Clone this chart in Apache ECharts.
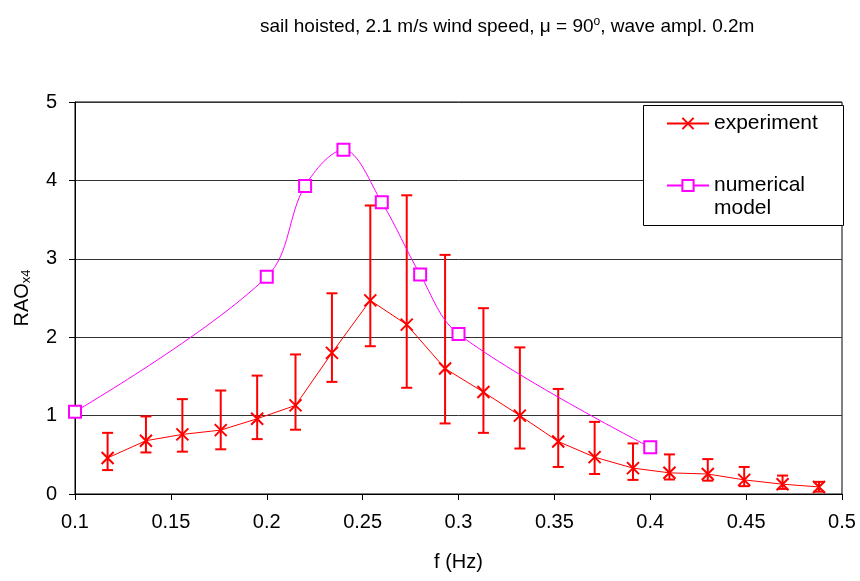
<!DOCTYPE html>
<html>
<head>
<meta charset="utf-8">
<script src="https://cdn.jsdelivr.net/npm/echarts@6/dist/echarts.min.js"></script>
<style>
  html, body { margin: 0; padding: 0; background: #fff; }
  #chart { width: 860px; height: 581px; }
</style>
</head>
<body>
<div id="chart"></div>
<script>
// Measured roll response (RAO x4) with scatter range, and the numerical model
const expFreq = [0.117, 0.137, 0.156, 0.176, 0.195, 0.215, 0.234, 0.254, 0.273, 0.293,
                 0.313, 0.332, 0.352, 0.371, 0.391, 0.410, 0.430, 0.449, 0.469, 0.488];
const expRAO  = [0.46, 0.68, 0.76, 0.815, 0.96, 1.13, 1.80, 2.47, 2.16, 1.60,
                 1.30, 1.00, 0.67, 0.47, 0.33, 0.27, 0.255, 0.18, 0.125, 0.09];
const expHigh = [0.78, 0.99, 1.21, 1.32, 1.51, 1.78, 2.56, 3.68, 3.81, 3.05,
                 2.37, 1.87, 1.34, 0.92, 0.645, 0.505, 0.445, 0.345, 0.235, 0.155];
const expLow  = [0.305, 0.53, 0.54, 0.57, 0.70, 0.82, 1.43, 1.885, 1.355, 0.90,
                 0.78, 0.58, 0.345, 0.255, 0.18, 0.185, 0.17, 0.10, 0.065, 0.03];

const numFreq = [0.10, 0.20, 0.22, 0.24, 0.26, 0.28, 0.30, 0.40];
const numRAO  = [1.05, 2.77, 3.93, 4.39, 3.72, 2.80, 2.04, 0.595];

const seriesNames = ['experiment', 'numerical model'];
const titleText = 'sail hoisted, 2.1 m/s wind speed, \u03bc = 90{sup|o}, wave ampl. 0.2m';

const RED = '#ff0000';
const MAGENTA = '#ff00ff';
const FONT = 'Liberation Sans, Arial, sans-serif';
const CROSS = 'path://M0 0L10 10M10 0L0 10';

const chart = echarts.init(document.getElementById('chart'), null, { renderer: 'canvas' });

const expData = expFreq.map((f, i) => [f, expRAO[i]]);
const errData = expFreq.map((f, i) => [f, expLow[i], expHigh[i]]);
const numData = numFreq.map((f, i) => [f, numRAO[i]]);

chart.setOption({
  backgroundColor: '#fff',
  animation: false,
  title: {
    text: titleText,
    left: 255,
    top: 11,
    textStyle: {
      fontFamily: FONT, fontSize: 19, fontWeight: 'normal', color: '#000',
      rich: { sup: { fontFamily: FONT, fontSize: 12, verticalAlign: 'top', padding: [0, 0, 10, 0], color: '#000' } }
    }
  },
  grid: {
    left: 75, right: 18, top: 102, bottom: 87,
    show: true, borderColor: '#000', borderWidth: 1, backgroundColor: 'transparent'
  },
  graphic: [{
    type: 'rect', z: 5,
    shape: { x: 643.5, y: 105.5, width: 200, height: 120 },
    style: { fill: '#fff', stroke: '#000', lineWidth: 1 }
  }],
  legend: {
    z: 10,
    orient: 'vertical',
    left: 666, top: 112,
    padding: 0,
    itemGap: 16,
    itemWidth: 42, itemHeight: 14,
    data: seriesNames,
    // a blank leading line keeps the icon level with "numerical"
    formatter: name => name === 'numerical model' ? '\nnumerical\nmodel' : name,
    textStyle: { fontFamily: FONT, fontSize: 21, color: '#000', lineHeight: 23 }
  },
  xAxis: {
    type: 'value', min: 0.1, max: 0.5, interval: 0.05,
    name: 'f (Hz)', nameLocation: 'middle', nameGap: 58,
    nameTextStyle: { fontFamily: FONT, fontSize: 20, color: '#000' },
    axisLine: { show: true, onZero: false, lineStyle: { color: '#000', width: 1 } },
    axisTick: { show: true, inside: false, length: 6, lineStyle: { color: '#000' } },
    axisLabel: {
      margin: 18, fontFamily: FONT, fontSize: 20, color: '#000',
      formatter: v => String(parseFloat(v.toFixed(2)))
    },
    splitLine: { show: false }
  },
  yAxis: {
    type: 'value', min: 0, max: 5, interval: 1,
    name: 'RAO{sub|x4}', nameLocation: 'middle', nameGap: 42, nameRotate: 90,
    nameTextStyle: {
      fontFamily: FONT, fontSize: 20, color: '#000',
      rich: { sub: { fontFamily: FONT, fontSize: 13, verticalAlign: 'bottom', padding: [8, 0, 0, 0], color: '#000' } }
    },
    axisLine: { show: true, lineStyle: { color: '#000', width: 1 } },
    axisTick: { show: true, inside: false, length: 6, lineStyle: { color: '#000' } },
    axisLabel: { margin: 18, fontFamily: FONT, fontSize: 20, color: '#000' },
    splitLine: { show: true, lineStyle: { color: '#333', width: 1 } }
  },
  series: [
    {
      name: 'error range',
      type: 'custom',
      z: 3,
      data: errData,
      encode: { x: 0, y: [1, 2] },
      renderItem: (params, api) => {
        const x = api.value(0);
        const lo = api.coord([x, api.value(1)]);
        const hi = api.coord([x, api.value(2)]);
        const w = 5.5;
        const style = { stroke: RED, lineWidth: 2 };
        return {
          type: 'group',
          children: [
            { type: 'line', shape: { x1: lo[0], y1: lo[1], x2: hi[0], y2: hi[1] }, style },
            { type: 'line', shape: { x1: hi[0] - w, y1: hi[1], x2: hi[0] + w, y2: hi[1] }, style },
            { type: 'line', shape: { x1: lo[0] - w, y1: lo[1], x2: lo[0] + w, y2: lo[1] }, style }
          ]
        };
      }
    },
    {
      name: 'experiment',
      type: 'line',
      z: 4,
      data: expData,
      symbol: CROSS,
      symbolSize: 12,
      showAllSymbol: true,
      lineStyle: { color: RED, width: 1 },
      itemStyle: { color: 'rgba(0,0,0,0)', borderColor: RED, borderWidth: 2 }
    },
    {
      name: 'numerical model',
      type: 'line',
      z: 4,
      data: numData,
      smooth: 0.35,
      symbol: 'rect',
      symbolSize: 12,
      showAllSymbol: true,
      lineStyle: { color: MAGENTA, width: 1 },
      itemStyle: { color: '#fff', borderColor: MAGENTA, borderWidth: 2 }
    }
  ]
});
</script>
</body>
</html>
